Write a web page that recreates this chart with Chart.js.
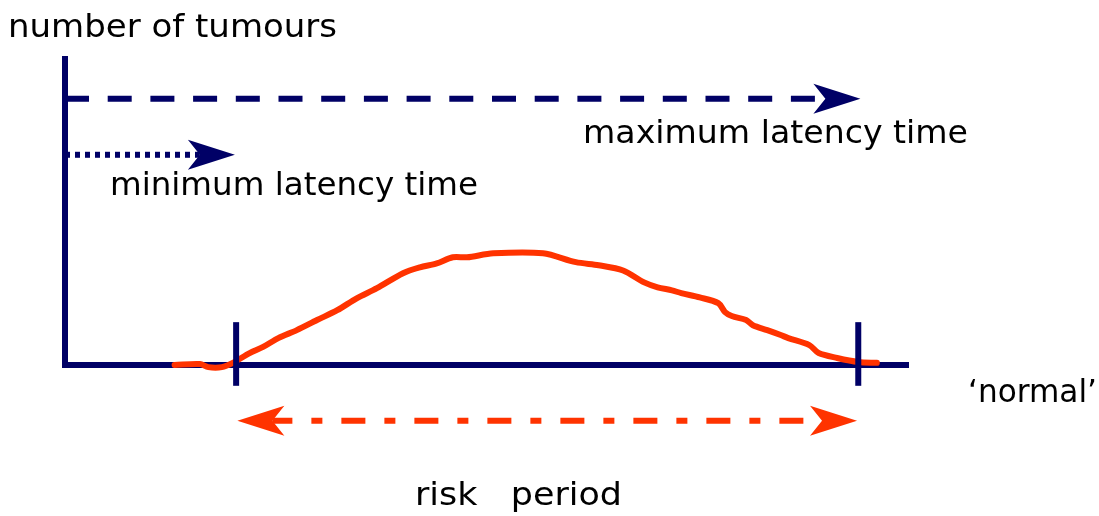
<!DOCTYPE html>
<html>
<head>
<meta charset="utf-8">
<script src="https://cdn.jsdelivr.net/npm/chart.js@4.4.1/dist/chart.umd.min.js"></script>
<style>
  html, body { margin: 0; padding: 0; background: #fff; }
  canvas { display: block; }
</style>
</head>
<body>
<canvas id="latencyChart" width="1099" height="516"></canvas>
<script>
// tumour curve (time 0-100, number 0-100)
const curveX = [13.0, 16.0, 17.0, 18.6, 19.9, 21.9, 23.5, 25.3, 27.5, 29.9, 32.3, 34.6, 37.0, 40.1, 42.1,
                44.1, 46.0, 47.7, 50.8, 56.7, 60.6, 63.3, 66.2, 68.7, 70.3, 72.0, 73.1, 75.3, 77.5, 78.3,
                79.1, 80.8, 81.6, 83.3, 84.9, 85.8, 88.3, 89.4, 91.6, 94.1, 96.3];
const curveY = [0, 0.3, -0.7, -0.7, 0.7, 3.9, 5.9, 8.8, 11.4, 14.7, 17.9, 21.8, 25.1, 30.0, 31.9,
                33.2, 35.2, 35.2, 36.5, 36.5, 33.6, 32.6, 30.9, 27.0, 25.4, 24.4, 23.5, 22.1, 20.2, 17.3,
                16.0, 14.7, 13.0, 11.4, 9.8, 8.8, 6.5, 3.9, 2.3, 1.0, 0.7];

// start / end of the risk period and the marker heights
const periodBounds = [20.3, 94.1];
const markerSpan = [-6.8, 14.0];

// arrows: x from, x to (shaft), level
const maxLatencyX = [0, 90.2];
const maxLatencyLevel = 87.0;
const minLatencyX = [0, 16.0];
const minLatencyLevel = 68.7;
const riskX = [24.6, 89.8];
const riskLevel = -18.2;

const texts = ['number of tumours', 'maximum latency time', 'minimum latency time', '\u2018normal\u2019', 'risk   period'];

const navy = '#000066';
const red = '#ff3300';

const line = (xs, ys) => xs.map((x, i) => ({ x: x, y: ys[i] }));

// arrowheads drawn at the ends of the shafts
const arrowHeads = {
    id: 'arrowHeads',
    afterDatasetsDraw(chart) {
        const ctx = chart.ctx;
        chart.data.datasets.forEach((ds, i) => {
            if (!ds.arrows) return;
            const pts = chart.getDatasetMeta(i).data;
            ds.arrows.forEach(end => {
                const a = end === 'end' ? pts[pts.length - 1] : pts[0];
                const b = end === 'end' ? pts[pts.length - 2] : pts[1];
                const ang = Math.atan2(a.y - b.y, a.x - b.x);
                ctx.save();
                ctx.translate(a.x, a.y);
                ctx.rotate(ang);
                ctx.beginPath();
                ctx.moveTo(35, 0);
                ctx.lineTo(-12, -15);
                ctx.lineTo(0, 0);
                ctx.lineTo(-12, 15);
                ctx.closePath();
                ctx.fillStyle = ds.borderColor;
                ctx.fill();
                ctx.restore();
            });
        });
    }
};

// the labels, fitted to the width of the hand lettering
const textMarks = {
    id: 'textMarks',
    afterDraw(chart) {
        const ctx = chart.ctx;
        const spots = [[8, 337, 37], [583, 968, 143], [110, 478, 195], [968, 1097, 402], [415, 622, 505]];
        ctx.save();
        ctx.font = '32px "DejaVu Sans"';
        ctx.fillStyle = '#000';
        ctx.textBaseline = 'alphabetic';
        texts.forEach((t, i) => {
            const [l, r, b] = spots[i];
            const w = ctx.measureText(t).width;
            ctx.save();
            ctx.translate(l, b);
            ctx.scale((r - l) / w, 1);
            ctx.fillText(t, 0, 0);
            ctx.restore();
        });
        ctx.restore();
    }
};

const axisOpts = (fit) => ({
    type: 'linear',
    min: 0,
    max: 100,
    ticks: { display: false },
    grid: { display: false },
    border: { display: true, color: navy, width: 6 },
    afterFit: fit
});

new Chart(document.getElementById('latencyChart'), {
    type: 'line',
    data: {
        datasets: [
            {
                label: 'start',
                data: line([periodBounds[0], periodBounds[0]], markerSpan),
                borderColor: navy, borderWidth: 6, pointRadius: 0, clip: false
            },
            {
                label: 'end',
                data: line([periodBounds[1], periodBounds[1]], markerSpan),
                borderColor: navy, borderWidth: 6, pointRadius: 0, clip: false
            },
            {
                label: 'number of tumours',
                data: line(curveX, curveY),
                borderColor: red, borderWidth: 6, pointRadius: 0, tension: 0.3,
                borderCapStyle: 'round', borderJoinStyle: 'round', clip: false
            },
            {
                label: 'maximum latency time',
                data: line(maxLatencyX, [maxLatencyLevel, maxLatencyLevel]),
                borderColor: navy, borderWidth: 6, pointRadius: 0, borderDash: [24, 18.7],
                arrows: ['end'], clip: false
            },
            {
                label: 'minimum latency time',
                data: line(minLatencyX, [minLatencyLevel, minLatencyLevel]),
                borderColor: navy, borderWidth: 6, pointRadius: 0, borderDash: [5, 5],
                arrows: ['end'], clip: false
            },
            {
                label: 'risk period',
                data: line(riskX, [riskLevel, riskLevel]),
                borderColor: red, borderWidth: 6, pointRadius: 0, borderDash: [24, 19, 11, 19],
                borderDashOffset: 4, arrows: ['start', 'end'], clip: false
            }
        ]
    },
    options: {
        responsive: false,
        animation: false,
        layout: { padding: { left: 65, right: 191, top: 59, bottom: 151 } },
        plugins: { legend: { display: false }, tooltip: { enabled: false } },
        scales: {
            x: axisOpts(s => { s.height = 0; }),
            y: axisOpts(s => { s.width = 0; })
        }
    },
    plugins: [arrowHeads, textMarks]
});
</script>
</body>
</html>
